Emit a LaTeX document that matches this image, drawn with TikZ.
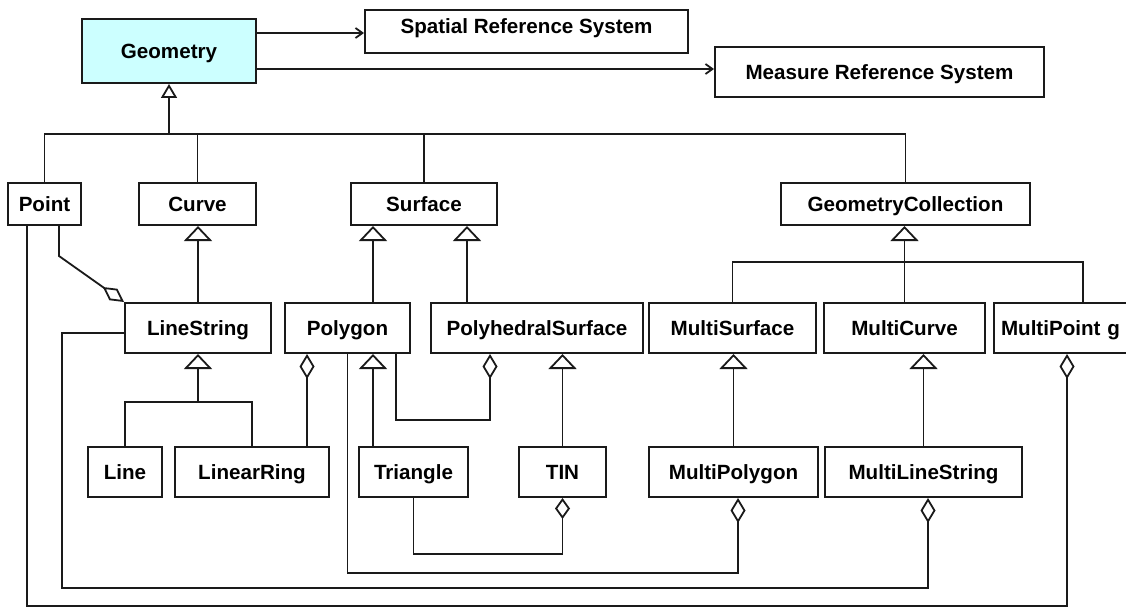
\documentclass[tikz,border=0pt]{standalone}
\usepackage{fontspec}
\setmainfont{Liberation Sans}
\usetikzlibrary{arrows.meta}
\definecolor{geomfill}{HTML}{CCFFFF}
\definecolor{ink}{HTML}{1A1A1A}

\begin{document}
\begin{tikzpicture}[x=1pt,y=-1pt,
  every node/.style={font=\fontsize{20.6}{24}\selectfont\bfseries},
  box/.style={draw=ink, line width=2pt, inner sep=0pt, text height=14.7pt, text depth=0pt, fill=white},
  conn/.style={draw=ink, line width=1.8pt},
  inh/.style={conn, -{Triangle[open,length=15pt,width=28pt]}},
  inhsmall/.style={conn, -{Triangle[open,length=14pt,width=16pt]}},
  agg/.style={conn, -{Diamond[open,length=25pt,width=15pt]}},
  nav/.style={conn, -{Straight Barb[length=7pt,width=10pt]}},
]
\useasboundingbox (0,0) rectangle (1126,607);

% root class and the reference systems
\node[box, fill=geomfill, minimum width=174pt, minimum height=64pt] (geom) at (169,51) {Geometry};
\node[box, minimum width=323pt, minimum height=43pt, text depth=10pt] (srs) at (526.5,31.5) {Spatial Reference System};
\node[box, minimum width=329pt, minimum height=50pt] (mrs) at (879.5,72) {Measure Reference System};

% first level of subclasses
\node[box, minimum width=73pt,  minimum height=42pt] (point)   at (44.5,204)  {Point};
\node[box, minimum width=117pt, minimum height=42pt] (curve)   at (197.5,204) {Curve};
\node[box, minimum width=146pt, minimum height=42pt] (surface) at (424,204)   {Surface};
\node[box, minimum width=249pt, minimum height=42pt] (gcoll)   at (905.5,204) {GeometryCollection};

% second level
\node[box, minimum width=146pt, minimum height=50pt] (linestring) at (198,328)   {LineString};
\node[box, minimum width=125pt, minimum height=50pt] (polygon)    at (347.5,328) {Polygon};
\node[box, minimum width=212pt, minimum height=50pt] (polyhedral) at (537,328)   {PolyhedralSurface};
\node[box, minimum width=167pt, minimum height=50pt] (msurface)   at (732.5,328) {MultiSurface};
\node[box, minimum width=161pt, minimum height=50pt] (mcurve)     at (904.5,328) {MultiCurve};
\node[box, minimum height=50pt, anchor=west, inner xsep=7pt, text width=140pt, align=left] (mpoint) at (993,328) {MultiPoint g};

% third level
\node[box, minimum width=74pt,  minimum height=50pt] (line)        at (125,472)   {Line};
\node[box, minimum width=154pt, minimum height=50pt] (linearring)  at (252,472)   {LinearRing};
\node[box, minimum width=109pt, minimum height=50pt] (triangle)    at (413.5,472) {Triangle};
\node[box, minimum width=87pt,  minimum height=50pt] (tin)         at (562.5,472) {TIN};
\node[box, minimum width=169pt, minimum height=50pt] (mpolygon)    at (733.5,472) {MultiPolygon};
\node[box, minimum width=197pt, minimum height=50pt] (mlinestring) at (923.5,472) {MultiLineString};

% associations to the reference systems
\coordinate (srsIn) at ([yshift=-1.5pt]srs.west);
\coordinate (mrsIn) at ([yshift=3pt]mrs.west);
\draw[nav] (geom.east |- srsIn) -- (srsIn);
\draw[nav] (geom.east |- mrsIn) -- (mrsIn);

% generalisation tree under Geometry
\coordinate (gbus) at ([yshift=-50pt]geom.south);
\draw[conn] (point.north) |- (gbus);
\draw[conn] (gcoll.north) |- (gbus);
\draw[conn] (curve.north) -- (curve.north |- gbus);
\draw[conn] (surface.north) -- (surface.north |- gbus);
\draw[inhsmall] (gbus) -- (geom.south);

% Curve / LineString family
\draw[inh] (linestring.north) -- (linestring.north |- curve.south);
\coordinate (lsbus) at ([yshift=-48pt]linestring.south);
\draw[conn] (line.north) |- (lsbus);
\draw[conn] (linearring.north) |- (lsbus);
\draw[inh] (lsbus) -- (linestring.south);
\draw[conn, -{Diamond[open,length=26pt,width=14pt]}] ([xshift=14.5pt]point.south) -- ++(0,30) -- (linestring.north west);

% Surface / Polygon family
\coordinate (plyTop) at ([xshift=25.5pt]polygon.north);
\draw[inh] (plyTop) -- (plyTop |- surface.south);
\coordinate (phsTop) at ([xshift=-70pt]polyhedral.north);
\draw[inh] (phsTop) -- (phsTop |- surface.south);
\coordinate (lrTop) at ([xshift=55pt]linearring.north);
\draw[agg] (lrTop) -- (lrTop |- polygon.south);
\coordinate (triTop) at ([xshift=-40.5pt]triangle.north);
\draw[inh] (triTop) -- (triTop |- polygon.south);
\draw[agg] ([xshift=48.5pt]polygon.south) -- ++(0,66) -| ([xshift=-47pt]polyhedral.south);
\draw[inh] (tin.north) -- (tin.north |- polyhedral.south);
\draw[conn, -{Diamond[open,length=21pt,width=15pt]}] (triangle.south) -- ++(0,56) -| (tin.south);

% GeometryCollection family
\coordinate (gcbus) at ([yshift=-36pt]gcoll.south);
\coordinate (mpTop) at ([xshift=12pt]mpoint.north);
\draw[conn] (msurface.north) |- (gcbus) -| (mpTop);
\draw[inh] (mcurve.north) -- (mcurve.north |- gcoll.south);
\draw[inh] (mpolygon.north) -- (mpolygon.north |- msurface.south);
\draw[inh] (mlinestring.north) -- (mlinestring.north |- mcurve.south);

% aggregations into the collections
\draw[agg] (polygon.south) -- ++(0,219) -| ([xshift=4.5pt]mpolygon.south);
\coordinate (lsLeft) at ([yshift=-5pt]linestring.west);
\draw[agg] (lsLeft) -- ++(-62,0) -- ++(0,255) -| ([xshift=4.5pt]mlinestring.south);
\draw[agg] ([xshift=-17.5pt]point.south) -- ++(0,380) -| ([xshift=-4pt]mpoint.south);

\end{tikzpicture}
\end{document}
